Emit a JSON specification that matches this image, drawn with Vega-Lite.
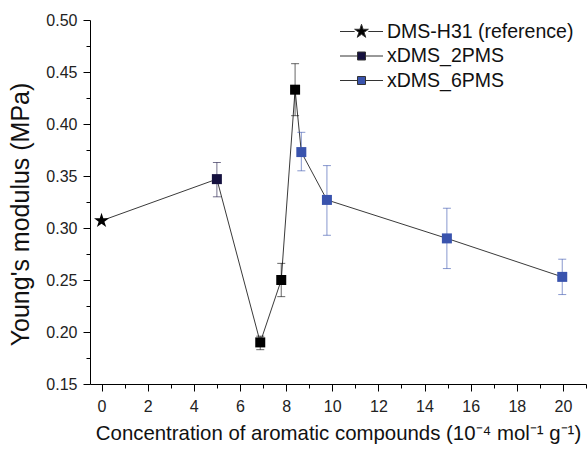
{
  "$schema": "https://vega.github.io/schema/vega-lite/v6.json",
  "autosize": {"type": "none"},
  "padding": {"left": 90, "top": 20, "right": 2, "bottom": 67},
  "width": 496,
  "height": 364,
  "background": "white",
  "config": {
    "view": {"stroke": null},
    "font": "Liberation Sans",
    "axis": {"grid": false, "domainColor": "#000", "tickColor": "#000", "labelColor": "#222", "titleColor": "#111", "labelFont": "Liberation Sans", "titleFont": "Liberation Sans", "titleFontWeight": "normal"}
  },
  "resolve": {"axis": {"x": "independent", "y": "independent"}},
  "data": {
    "values": [
      {"series": "DMS-H31 (reference)", "x": 0, "y": 0.307, "lo": null, "hi": null},
      {"series": "xDMS_2PMS", "x": 5, "y": 0.347, "lo": 0.330, "hi": 0.363},
      {"series": "unlabelled", "x": 6.88, "y": 0.190, "lo": 0.183, "hi": 0.196},
      {"series": "unlabelled", "x": 7.79, "y": 0.250, "lo": 0.234, "hi": 0.266},
      {"series": "unlabelled", "x": 8.39, "y": 0.433, "lo": 0.408, "hi": 0.458},
      {"series": "xDMS_6PMS", "x": 8.66, "y": 0.373, "lo": 0.355, "hi": 0.392},
      {"series": "xDMS_6PMS", "x": 9.77, "y": 0.327, "lo": 0.293, "hi": 0.360},
      {"series": "xDMS_6PMS", "x": 14.97, "y": 0.290, "lo": 0.261, "hi": 0.319},
      {"series": "xDMS_6PMS", "x": 19.97, "y": 0.253, "lo": 0.236, "hi": 0.270}
    ]
  },
  "layer": [
    {
      "mark": {"type": "line", "color": "#3a3a3a", "strokeWidth": 1},
      "encoding": {
        "x": {
          "field": "x", "type": "quantitative",
          "scale": {"domain": [-0.5, 21], "nice": false, "zero": false},
          "axis": {
            "orient": "bottom",
            "title": "Concentration of aromatic compounds (10⁻⁴ mol⁻¹ g⁻¹)",
            "titleFontSize": 20.4, "titlePadding": 9,
            "values": [0, 2, 4, 6, 8, 10, 12, 14, 16, 18, 20],
            "format": "d",
            "labelFontSize": 16, "labelPadding": 7.5, "tickSize": 7,
            "labelFlush": false, "labelOverlap": false
          }
        },
        "y": {
          "field": "y", "type": "quantitative",
          "scale": {"domain": [0.15, 0.5], "nice": false, "zero": false},
          "axis": {
            "orient": "left",
            "title": "Young's modulus (MPa)", "titleFontSize": 25, "titlePadding": 12, "titleY": 194,
            "values": [0.15, 0.2, 0.25, 0.3, 0.35, 0.4, 0.45, 0.5],
            "format": ".2f",
            "labelFontSize": 16, "labelPadding": 6, "tickSize": 7,
            "labelOverlap": false, "labelFlush": false
          }
        },
        "order": {"field": "x", "type": "quantitative"}
      }
    },
    {
      "transform": [{"filter": "datum.lo != null"}],
      "mark": {"type": "rule", "strokeWidth": 1, "opacity": 0.6},
      "encoding": {
        "x": {
          "field": "x", "type": "quantitative",
          "axis": {
            "orient": "bottom", "title": null, "labels": false, "domain": false,
            "values": [1, 3, 5, 7, 9, 11, 13, 15, 17, 19, 21], "tickSize": 4
          }
        },
        "y": {
          "field": "lo", "type": "quantitative",
          "axis": {
            "orient": "left", "title": null, "labels": false, "domain": false,
            "values": [0.175, 0.225, 0.275, 0.325, 0.375, 0.425, 0.475], "tickSize": 4
          }
        },
        "y2": {"field": "hi"},
        "stroke": {"field": "series", "type": "nominal", "legend": null,
          "scale": {"domain": ["unlabelled", "xDMS_2PMS", "xDMS_6PMS", "DMS-H31 (reference)"], "range": ["#000000", "#15113f", "#3953ad", "#000000"]}}
      }
    },
    {
      "transform": [{"filter": "datum.lo != null"}, {"fold": ["lo", "hi"], "as": ["end", "val"]}],
      "mark": {"type": "tick", "orient": "horizontal", "size": 8, "thickness": 1, "opacity": 0.6},
      "encoding": {
        "x": {"field": "x", "type": "quantitative", "axis": null},
        "y": {"field": "val", "type": "quantitative", "axis": null},
        "fill": {"field": "series", "type": "nominal", "legend": null,
          "scale": {"domain": ["unlabelled", "DMS-H31 (reference)", "xDMS_2PMS", "xDMS_6PMS"], "range": ["#000000", "#000000", "#15113f", "#3953ad"]}}
      }
    },
    {
      "transform": [{"filter": "datum.series !== 'DMS-H31 (reference)'"}],
      "mark": {"type": "point", "shape": "square", "filled": true, "size": 100, "opacity": 1},
      "encoding": {
        "x": {"field": "x", "type": "quantitative", "axis": null},
        "y": {"field": "y", "type": "quantitative", "axis": null},
        "fill": {"field": "series", "type": "nominal", "legend": null}
      }
    },
    {
      "transform": [{"filter": "datum.series === 'DMS-H31 (reference)'"}],
      "mark": {"type": "point", "shape": "M0,-1L0.225,-0.309L0.951,-0.309L0.363,0.118L0.588,0.809L0,0.382L-0.588,0.809L-0.363,0.118L-0.951,-0.309L-0.225,-0.309Z", "filled": true, "size": 250, "opacity": 1},
      "encoding": {
        "x": {"field": "x", "type": "quantitative", "axis": null},
        "y": {"field": "y", "type": "quantitative", "axis": null},
        "fill": {"field": "series", "type": "nominal", "legend": null}
      }
    },
    {
      "mark": {"type": "point", "filled": true, "size": 400, "opacity": 0, "stroke": "#333", "strokeWidth": 1},
      "encoding": {
        "x": {"field": "x", "type": "quantitative", "axis": null},
        "y": {"field": "y", "type": "quantitative", "axis": null},
        "color": {
          "field": "series", "type": "nominal",
          "scale": {"domain": ["DMS-H31 (reference)", "xDMS_2PMS", "xDMS_6PMS", "unlabelled"], "range": ["#000000", "#15113f", "#3953ad", "#000000"]},
          "legend": {
            "title": null, "orient": "none", "legendX": 261, "legendY": 1,
            "values": ["DMS-H31 (reference)", "xDMS_2PMS", "xDMS_6PMS"],
            "labelFontSize": 19.5, "labelColor": "#111", "labelFont": "Liberation Sans", "labelLimit": 300,
            "symbolSize": 400, "symbolStrokeColor": "#333", "symbolStrokeWidth": 1, "symbolOpacity": 1,
            "rowPadding": 4.5, "labelOffset": 15,
            "encode": {"symbols": {"update": {"stroke": {"value": "#333"}, "strokeWidth": {"value": 1}, "opacity": {"value": 1}, "size": {"value": 400}}}}
          }
        },
        "shape": {
          "field": "series", "type": "nominal",
          "scale": {"domain": ["DMS-H31 (reference)", "xDMS_2PMS", "xDMS_6PMS", "unlabelled"], "range": [
            "M-2.15,0H-0.68M0.68,0H2.15M0,-0.72L0.162,-0.222L0.685,-0.222L0.261,0.085L0.423,0.582L0,0.275L-0.423,0.582L-0.261,0.085L-0.685,-0.222L-0.162,-0.222Z",
            "M-2.15,0H-0.4M0.4,0H2.15M-0.4,-0.4H0.4V0.4H-0.4Z",
            "M-2.15,0H-0.4M0.4,0H2.15M-0.4,-0.4H0.4V0.4H-0.4Z",
            "M-2.15,0H-0.4M0.4,0H2.15M-0.4,-0.4H0.4V0.4H-0.4Z"
          ]},
          "legend": {
            "title": null, "orient": "none", "legendX": 261, "legendY": 1,
            "values": ["DMS-H31 (reference)", "xDMS_2PMS", "xDMS_6PMS"],
            "labelFontSize": 19.5, "labelColor": "#111", "labelFont": "Liberation Sans", "labelLimit": 300,
            "symbolSize": 400, "symbolStrokeColor": "#333", "symbolStrokeWidth": 1, "symbolOpacity": 1,
            "rowPadding": 4.5, "labelOffset": 15,
            "encode": {"symbols": {"update": {"stroke": {"value": "#333"}, "strokeWidth": {"value": 1}, "opacity": {"value": 1}, "size": {"value": 400}}}}
          }
        }
      }
    }
  ]
}
